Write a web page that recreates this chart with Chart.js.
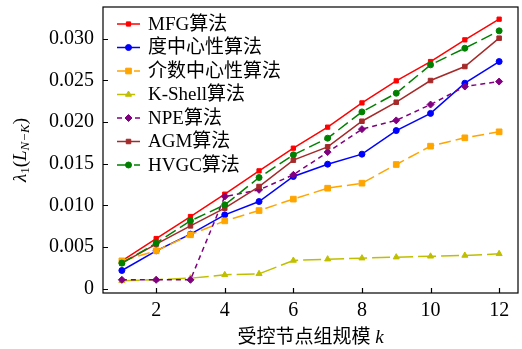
<!DOCTYPE html>
<html>
<head>
<meta charset="utf-8">
<script src="https://cdn.jsdelivr.net/npm/chart.js@4.4.1/dist/chart.umd.min.js"></script>
<style>
  html, body { margin: 0; padding: 0; background: #fff; }
  #wrap { width: 522px; height: 349px; }
</style>
</head>
<body>
<div id="wrap"><canvas id="chart"></canvas></div>
<script>
// ── Data ─────────────────────────────────────────────────────────────────
const K_VALUES = [1, 2, 3, 4, 5, 6, 7, 8, 9, 10, 11, 12];
const X_TICKS  = [2, 4, 6, 8, 10, 12];
const Y_TICKS  = [0, 0.005, 0.010, 0.015, 0.020, 0.025, 0.030];

const MFG    = [0.00336, 0.00603, 0.00867, 0.01135, 0.01415, 0.01687, 0.01939, 0.0223, 0.02494, 0.02726, 0.02986, 0.03234];
const DEGREE = [0.0022, 0.00456, 0.00656, 0.00887, 0.01047, 0.01347, 0.01495, 0.01615, 0.01898, 0.02104, 0.02466, 0.02726];
const BETWEEN= [0.00336, 0.00456, 0.00648, 0.00815, 0.00939, 0.01076, 0.01207, 0.01267, 0.01491, 0.01711, 0.01811, 0.01883];
const KSHELL = [0.00096, 0.0011, 0.00128, 0.00168, 0.0018, 0.0034, 0.00356, 0.00368, 0.0038, 0.0039, 0.004, 0.0042];
const NPE    = [0.00108, 0.00108, 0.00108, 0.01107, 0.01187, 0.01367, 0.0164, 0.01915, 0.0202, 0.0221, 0.02426, 0.02486];
const AGM    = [0.00308, 0.00536, 0.00755, 0.00967, 0.01227, 0.01543, 0.01703, 0.0201, 0.02238, 0.02498, 0.02666, 0.03006];
const HVGC   = [0.00308, 0.00548, 0.00815, 0.01007, 0.01335, 0.01607, 0.01807, 0.02122, 0.02346, 0.02686, 0.02886, 0.03094];

const SERIES_LABELS = ['MFG算法', '度中心性算法', '介数中心性算法', 'K-Shell算法', 'NPE算法', 'AGM算法', 'HVGC算法'];

// ── Style ────────────────────────────────────────────────────────────────
const SERIF = "'Liberation Serif', 'Noto Sans CJK SC', serif";
Chart.defaults.font.family = SERIF;
Chart.defaults.font.size   = 20;
Chart.defaults.color       = '#000';

const STYLES = [
  { color: '#ff0000', dash: [],        point: 'rect',     r: 3   },
  { color: '#0000ff', dash: [],        point: 'circle',   r: 3   },
  { color: '#ffa500', dash: [12, 5],   point: 'rect',     r: 4   },
  { color: '#bfbf00', dash: [18, 5],   point: 'triangle', r: 3.5 },
  { color: '#800080', dash: [5, 4],    point: 'rectRot',  r: 3.5 },
  { color: '#a52a2a', dash: [],        point: 'rect',     r: 3.2 },
  { color: '#008000', dash: [12, 5],   point: 'circle',   r: 3   },
];

function makeDataset(label, values, i) {
  const s = STYLES[i];
  return {
    label,
    data: K_VALUES.map((k, j) => ({ x: k, y: values[j] })),
    borderColor: s.color,
    backgroundColor: s.color,
    borderWidth: 1.5,
    borderDash: s.dash,
    pointStyle: s.point,
    pointRadius: s.r,
    pointBorderWidth: 1,
    pointBackgroundColor: s.color,
    pointBorderColor: s.color,
    tension: 0,
    order: 10 - i,
  };
}

// ── Frame, inward ticks, axis titles, legend ─────────────────────────────
const decorations = {
  id: 'decorations',
  afterDraw(chart) {
    const { ctx, chartArea: a, scales: { x, y } } = chart;
    ctx.save();

    // frame + inward ticks
    ctx.strokeStyle = '#000';
    ctx.lineWidth = 1.2;
    ctx.setLineDash([]);
    ctx.strokeRect(a.left, a.top, a.right - a.left, a.bottom - a.top);
    ctx.beginPath();
    X_TICKS.forEach(v => {
      const px = Math.round(x.getPixelForValue(v)) + 0.5;
      ctx.moveTo(px, a.bottom); ctx.lineTo(px, a.bottom - 5);
    });
    Y_TICKS.forEach(v => {
      const py = Math.round(y.getPixelForValue(v)) + 0.5;
      ctx.moveTo(a.left, py); ctx.lineTo(a.left + 5, py);
    });
    ctx.stroke();

    // legend
    const lx0 = 117, lx1 = 140, ly0 = 24, step = 23.5;
    chart.data.datasets.forEach((ds, i) => {
      const yy = ly0 + i * step;
      ctx.strokeStyle = ds.borderColor;
      ctx.lineWidth = ds.borderWidth;
      ctx.setLineDash(ds.borderDash);
      ctx.beginPath(); ctx.moveTo(lx0, yy); ctx.lineTo(lx1, yy); ctx.stroke();
      ctx.setLineDash([]);
      ctx.fillStyle = ds.pointBackgroundColor;
      ctx.strokeStyle = ds.pointBorderColor;
      ctx.lineWidth = 1;
      Chart.helpers.drawPoint(ctx, { pointStyle: ds.pointStyle, radius: ds.pointRadius, rotation: 0, borderWidth: 1 }, (lx0 + lx1) / 2, yy);
      ctx.fillStyle = '#000';
      ctx.font = `19px ${SERIF}`;
      ctx.textBaseline = 'middle';
      ctx.textAlign = 'left';
      ctx.fillText(ds.label, 148, yy + 1);
    });

    // x-axis title: 受控节点组规模 k
    ctx.fillStyle = '#000';
    ctx.textBaseline = 'middle';
    ctx.textAlign = 'left';
    const xt1 = '受控节点组规模 ', xt2 = 'k';
    ctx.font = `19px ${SERIF}`;
    const w1 = ctx.measureText(xt1).width;
    ctx.font = `italic 19px ${SERIF}`;
    const w2 = ctx.measureText(xt2).width;
    const cx = (a.left + a.right) / 2;
    let sx = cx - (w1 + w2) / 2;
    ctx.font = `19px ${SERIF}`;
    ctx.fillText(xt1, sx, 338);
    ctx.font = `italic 19px ${SERIF}`;
    ctx.fillText(xt2, sx + w1, 338);

    // y-axis title: λ1(L N−K)
    const parts = [
      { t: 'λ',   f: `italic 19px ${SERIF}`, dy: 0 },
      { t: '1',   f: `13px ${SERIF}`,        dy: 5 },
      { t: '(',   f: `19px ${SERIF}`,        dy: 0 },
      { t: 'L',   f: `italic 19px ${SERIF}`, dy: 0 },
      { t: 'N−K', f: `italic 13px ${SERIF}`, dy: 5 },
      { t: ')',   f: `19px ${SERIF}`,        dy: 0 },
    ];
    let total = 0;
    parts.forEach(p => { ctx.font = p.f; p.w = ctx.measureText(p.t).width; total += p.w; });
    ctx.translate(21, (a.top + a.bottom) / 2);
    ctx.rotate(-Math.PI / 2);
    let px = -total / 2;
    parts.forEach(p => {
      ctx.font = p.f;
      ctx.fillText(p.t, px, p.dy);
      px += p.w;
    });

    ctx.restore();
  },
};

new Chart(document.getElementById('chart'), {
  type: 'line',
  data: {
    datasets: [MFG, DEGREE, BETWEEN, KSHELL, NPE, AGM, HVGC].map((v, i) => makeDataset(SERIES_LABELS[i], v, i)),
  },
  options: {
    responsive: true,
    maintainAspectRatio: false,
    animation: false,
    layout: { autoPadding: false, padding: { top: 7, right: 4, left: 0, bottom: 0 } },
    plugins: { legend: { display: false }, tooltip: { enabled: false } },
    scales: {
      x: {
        type: 'linear',
        min: 0.45,
        max: 12.55,
        afterBuildTicks: s => { s.ticks = X_TICKS.map(v => ({ value: v })); },
        afterFit: s => { s.height = 56; },
        grid: { display: false, drawTicks: false },
        border: { display: false },
        ticks: { padding: 6, maxRotation: 0, font: { size: 20 } },
      },
      y: {
        type: 'linear',
        min: -0.0005,
        max: 0.0338,
        afterBuildTicks: s => { s.ticks = Y_TICKS.map(v => ({ value: v })); },
        afterFit: s => { s.width = 103; s.paddingTop = 0; s.paddingBottom = 0; },
        grid: { display: false, drawTicks: false },
        border: { display: false },
        ticks: {
          padding: 9,
          font: { size: 20 },
          callback: v => (v === 0 ? '0' : v.toFixed(3)),
        },
      },
    },
  },
  plugins: [decorations],
});
</script>
</body>
</html>
